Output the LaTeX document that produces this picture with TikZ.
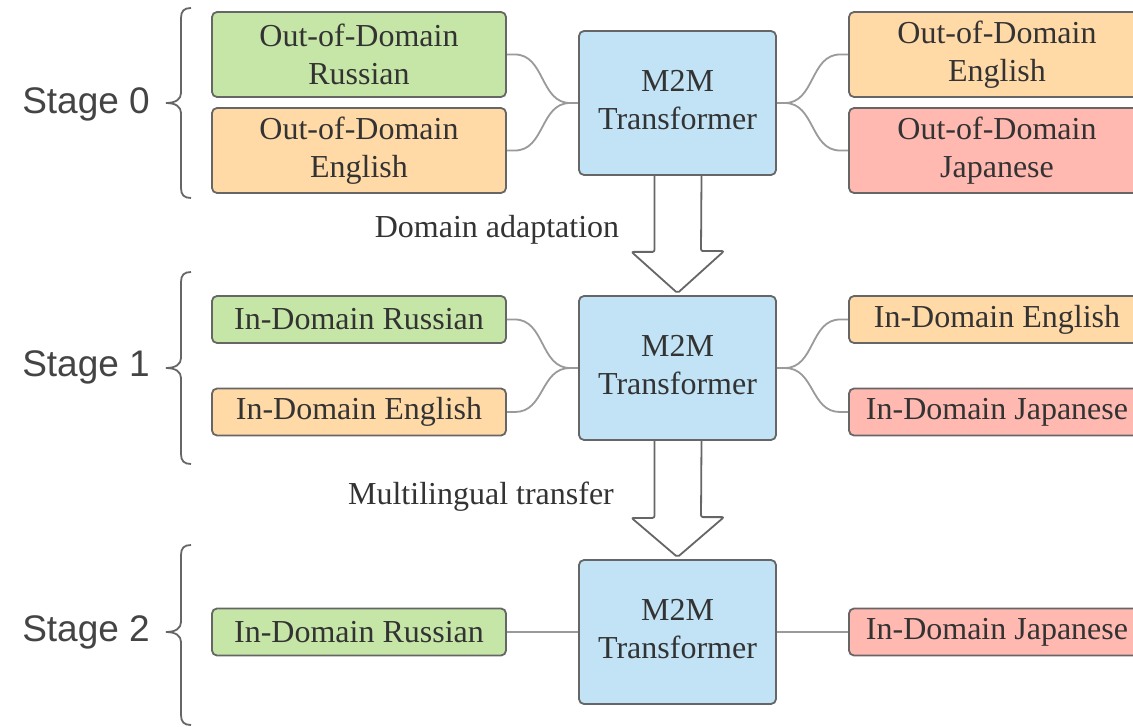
\documentclass[tikz,border=0pt]{standalone}
\usepackage{fontspec}
\setmainfont{Liberation Serif}
\newfontfamily\stagefont{Liberation Sans}
\usetikzlibrary{calc,backgrounds}
\definecolor{cgreen}{HTML}{C6E6A7}
\definecolor{corange}{HTML}{FFDAA7}
\definecolor{cred}{HTML}{FFB9B1}
\definecolor{cblue}{HTML}{C2E3F5}
\definecolor{cborder}{HTML}{666666}
\definecolor{cline}{HTML}{9A9A9A}
\definecolor{ctext}{HTML}{333333}
\definecolor{cstage}{HTML}{444444}
\newcommand{\mtwom}{\raisebox{4pt}{\begin{tabular}{@{}c@{}}M2M\\Transformer\end{tabular}}}
\begin{document}
\begin{tikzpicture}[x=1pt,y=-1pt,
  box/.style={draw=cborder, line width=1.8pt, rounded corners=5pt, align=center,
    font=\fontsize{32}{37.5}\selectfont, text=ctext, inner sep=0pt},
  lbox/.style={box, minimum width=294pt},
  rbox/.style={box, minimum width=296pt},
  tall/.style={minimum height=85pt},
  short/.style={minimum height=47pt},
  mbox/.style={box, fill=cblue, minimum width=197pt, minimum height=144pt},
  conn/.style={draw=cline, line width=1.8pt},
  barrow/.style={draw=cborder, fill=white, line width=1.8pt, line join=round, rounded corners=2pt},
  brace/.style={draw=cborder, line width=1.8pt},
  stage/.style={font=\stagefont\fontsize{37}{40}\selectfont, text=cstage, anchor=east, inner sep=0pt},
  lab/.style={font=\fontsize{32}{37.5}\selectfont, text=ctext, inner sep=0pt}
]
\useasboundingbox (0,0) rectangle (1133,727);
\clip (0,0) rectangle (1133,727);

% Stage 0
\node[lbox, tall, fill=cgreen] (l0a) at (359,54.5) {Out-of-Domain\\Russian};
\node[lbox, tall, fill=corange] (l0b) at (359,150.5) {Out-of-Domain\\English};
\node[mbox] (m0) at (677.5,103) {\mtwom};
\node[rbox, tall, fill=corange] (r0a) at (997,54.5) {Out-of-Domain\\English};
\node[rbox, tall, fill=cred] (r0b) at (997,150.5) {Out-of-Domain\\Japanese};

% Stage 1
\node[lbox, short, fill=cgreen] (l1a) at (359,319.5) {In-Domain Russian};
\node[lbox, short, fill=corange] (l1b) at (359,412) {In-Domain English};
\node[mbox] (m1) at (677.5,368) {\mtwom};
\node[rbox, short, fill=corange] (r1a) at (997,319.5) {In-Domain English};
\node[rbox, short, fill=cred] (r1b) at (997,412) {In-Domain Japanese};

% Stage 2
\node[lbox, short, fill=cgreen] (l2) at (359,632) {In-Domain Russian};
\node[mbox] (m2) at (677.5,632) {\mtwom};
\node[rbox, short, fill=cred] (r2) at (997,632) {In-Domain Japanese};

% stage labels
\node[stage] (s0) at (150,104) {Stage 0};
\node[stage] (s1) at (150,367) {Stage 1};
\node[stage] (s2) at (150,632) {Stage 2};

% arrow labels
\node[lab] (d0) at (497,230) {Domain adaptation};
\node[lab] (d1) at (481,497) {Multilingual transfer};

\begin{scope}[on background layer]
\fill[white] (0,0) rectangle (1133,727);
% connectors
\foreach \a/\b in {l0a/m0, l0b/m0, l1a/m1, l1b/m1, m0/r0a, m0/r0b, m1/r1a, m1/r1b}{
  \draw[conn] (\a.east) -- ++(8,0) .. controls +(30,0) and +(-30,0) .. ($(\b.west)+(-8,0)$) -- (\b.west);
}
\draw[conn] (l2.east) -- (m2.west);
\draw[conn] (m2.east) -- (r2.west);

% block arrows
\draw[barrow] ($(m0.south)+(-23,0)$) -- ++(0,76) -- ++(-23,0) -- ($(m1.north)+(0,-2)$)
  -- ++(46.5,-42) -- ++(-23,0) -- ($(m0.south)+(24,0)$);
\draw[barrow] ($(m1.south)+(-23,0)$) -- ++(0,77) -- ++(-23,0) -- ($(m2.north)+(0,-2)$)
  -- ++(46.5,-40) -- ++(-23,0) -- ($(m1.south)+(24,0)$);
\end{scope}

% braces
\draw[brace] (191,8) .. controls (184,8) and (181,11) .. (181,18) -- (181,93)
  .. controls (181,99) and (176,103) .. (166,103) .. controls (176,103) and (181,107) .. (181,113)
  -- (181,188) .. controls (181,195) and (184,198) .. (191,198);
\draw[brace] (191,272) .. controls (184,272) and (181,275) .. (181,282) -- (181,358)
  .. controls (181,364) and (176,368) .. (166,368) .. controls (176,368) and (181,372) .. (181,378)
  -- (181,454) .. controls (181,461) and (184,464) .. (191,464);
\draw[brace] (191,545) .. controls (184,545) and (181,548) .. (181,555) -- (181,622)
  .. controls (181,628) and (176,632) .. (166,632) .. controls (176,632) and (181,636) .. (181,642)
  -- (181,715) .. controls (181,722) and (184,725) .. (191,725);
\end{tikzpicture}
\end{document}
